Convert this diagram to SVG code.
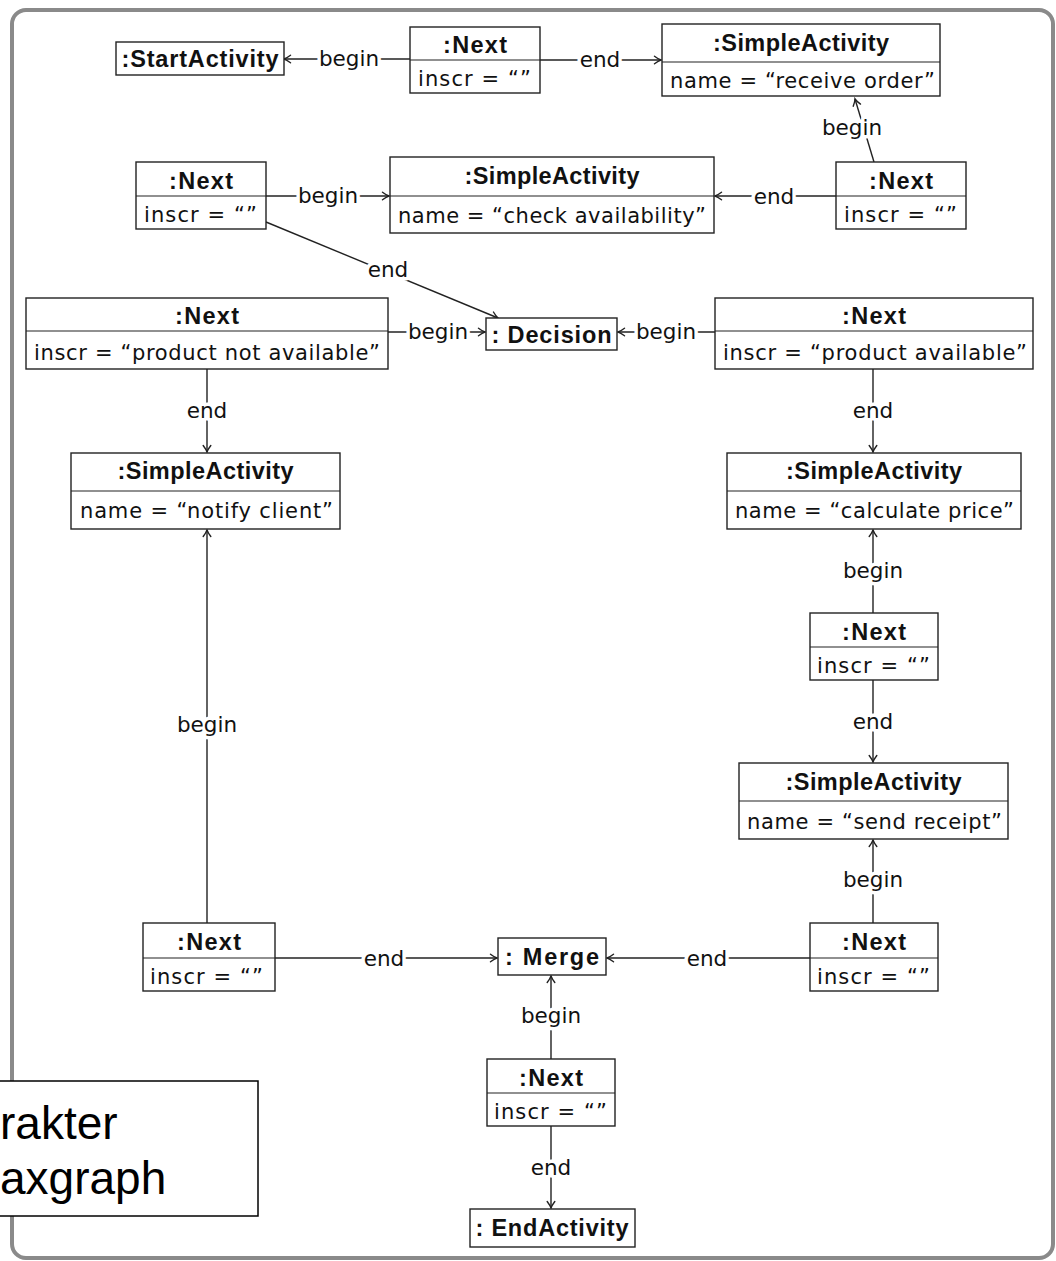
<svg xmlns="http://www.w3.org/2000/svg" width="1056" height="1261" viewBox="0 0 1056 1261">
  <style>
    .box { fill: #fff; stroke: #222; stroke-width: 1.4; }
    .div { stroke: #222; stroke-width: 1.2; }
    .hd { font-family: "Liberation Sans", "DejaVu Sans", sans-serif; font-size: 23.5px; font-weight: bold; fill: #111; text-anchor: middle; }
    .at { font-family: "DejaVu Sans", "Liberation Sans", sans-serif; font-size: 21px; fill: #111; }
    .edge { stroke: #222; stroke-width: 1.4; fill: none; marker-end: url(#arr); }
    .lbl { font-family: "DejaVu Sans", "Liberation Sans", sans-serif; font-size: 21.5px; fill: #111; text-anchor: middle; paint-order: stroke; stroke: #fff; stroke-width: 7px; stroke-linejoin: round; }
    .note { font-family: "Liberation Sans", Arial, sans-serif; font-size: 46px; fill: #000; }
  </style>
  <defs>
    <marker id="arr" viewBox="-8 -5 10 10" refX="0" refY="0" markerWidth="10" markerHeight="10" markerUnits="userSpaceOnUse" orient="auto">
      <path d="M -6.5,-3.8 Q -2.5,-0.8 0,0 Q -2.5,0.8 -6.5,3.8" fill="none" stroke="#222" stroke-width="1.4" stroke-linecap="round"/>
    </marker>
  </defs>

  <rect width="1056" height="1261" fill="#fff"/>
  <!-- frame -->
  <rect x="12" y="10" width="1041" height="1248" rx="14" fill="#fff" stroke="#8a8a8a" stroke-width="4"/>

  <!-- connectors -->
  <g id="connectors">
    <line class="edge" x1="410" y1="59" x2="284" y2="59"/>
    <text class="lbl" x="349" y="66">begin</text>
    <line class="edge" x1="540" y1="60" x2="661" y2="60"/>
    <text class="lbl" x="600" y="67">end</text>

    <line class="edge" x1="874" y1="162" x2="855" y2="99"/>
    <text class="lbl" x="852" y="135">begin</text>

    <line class="edge" x1="836" y1="196" x2="715" y2="196"/>
    <text class="lbl" x="774" y="204">end</text>
    <line class="edge" x1="266" y1="196" x2="389" y2="196"/>
    <text class="lbl" x="328" y="203">begin</text>

    <line class="edge" x1="266" y1="222" x2="498" y2="318"/>
    <text class="lbl" x="388" y="277">end</text>

    <line class="edge" x1="388" y1="332" x2="485" y2="332"/>
    <text class="lbl" x="438" y="339">begin</text>
    <line class="edge" x1="715" y1="332" x2="618" y2="332"/>
    <text class="lbl" x="666" y="339">begin</text>

    <line class="edge" x1="207" y1="369" x2="207" y2="452"/>
    <text class="lbl" x="207" y="418">end</text>
    <line class="edge" x1="873" y1="369" x2="873" y2="452"/>
    <text class="lbl" x="873" y="418">end</text>

    <line class="edge" x1="873" y1="613" x2="873" y2="530"/>
    <text class="lbl" x="873" y="578">begin</text>
    <line class="edge" x1="873" y1="680" x2="873" y2="762"/>
    <text class="lbl" x="873" y="729">end</text>
    <line class="edge" x1="873" y1="923" x2="873" y2="840"/>
    <text class="lbl" x="873" y="887">begin</text>

    <line class="edge" x1="207" y1="923" x2="207" y2="530"/>
    <text class="lbl" x="207" y="732">begin</text>

    <line class="edge" x1="275" y1="958" x2="497" y2="958"/>
    <text class="lbl" x="384" y="966">end</text>
    <line class="edge" x1="810" y1="958" x2="607" y2="958"/>
    <text class="lbl" x="707" y="966">end</text>

    <line class="edge" x1="551" y1="1059" x2="551" y2="976"/>
    <text class="lbl" x="551" y="1023">begin</text>
    <line class="edge" x1="551" y1="1126" x2="551" y2="1208"/>
    <text class="lbl" x="551" y="1175">end</text>
  </g>

  <!-- nodes -->
  <g id="start">
    <rect class="box" x="116" y="42" width="168" height="33"/>
    <text class="hd" x="200" y="67" textLength="157">:StartActivity</text>
  </g>

  <g id="next1">
    <rect class="box" x="410" y="27" width="130" height="66"/>
    <line class="div" x1="410" y1="60" x2="540" y2="60"/>
    <text class="hd" x="475" y="53" textLength="64">:Next</text>
    <text class="at" x="418" y="86" textLength="113">inscr = “”</text>
  </g>

  <g id="receiveOrder">
    <rect class="box" x="662" y="24" width="278" height="72"/>
    <line class="div" x1="662" y1="62" x2="940" y2="62"/>
    <text class="hd" x="801" y="51" textLength="176">:SimpleActivity</text>
    <text class="at" x="670" y="88" textLength="265">name = “receive order”</text>
  </g>

  <g id="next2">
    <rect class="box" x="136" y="162" width="130" height="67"/>
    <line class="div" x1="136" y1="196" x2="266" y2="196"/>
    <text class="hd" x="201" y="189" textLength="64">:Next</text>
    <text class="at" x="144" y="222" textLength="113">inscr = “”</text>
  </g>

  <g id="checkAvailability">
    <rect class="box" x="390" y="157" width="324" height="76"/>
    <line class="div" x1="390" y1="196" x2="714" y2="196"/>
    <text class="hd" x="552" y="184" textLength="175">:SimpleActivity</text>
    <text class="at" x="398" y="223" textLength="308">name = “check availability”</text>
  </g>

  <g id="next3">
    <rect class="box" x="836" y="162" width="130" height="67"/>
    <line class="div" x1="836" y1="196" x2="966" y2="196"/>
    <text class="hd" x="901" y="189" textLength="64">:Next</text>
    <text class="at" x="844" y="222" textLength="113">inscr = “”</text>
  </g>

  <g id="nextNotAvailable">
    <rect class="box" x="26" y="298" width="362" height="71"/>
    <line class="div" x1="26" y1="331" x2="388" y2="331"/>
    <text class="hd" x="207" y="324" textLength="64">:Next</text>
    <text class="at" x="34" y="360" textLength="346">inscr = “product not available”</text>
  </g>

  <g id="decision">
    <rect class="box" x="486" y="318" width="131" height="32"/>
    <text class="hd" x="551.5" y="343" textLength="120">: Decision</text>
  </g>

  <g id="nextAvailable">
    <rect class="box" x="715" y="298" width="318" height="71"/>
    <line class="div" x1="715" y1="331" x2="1033" y2="331"/>
    <text class="hd" x="874" y="324" textLength="64">:Next</text>
    <text class="at" x="723" y="360" textLength="304">inscr = “product available”</text>
  </g>

  <g id="notifyClient">
    <rect class="box" x="71" y="453" width="269" height="76"/>
    <line class="div" x1="71" y1="491" x2="340" y2="491"/>
    <text class="hd" x="205.5" y="479" textLength="176">:SimpleActivity</text>
    <text class="at" x="80" y="518" textLength="253">name = “notify client”</text>
  </g>

  <g id="calculatePrice">
    <rect class="box" x="727" y="453" width="294" height="76"/>
    <line class="div" x1="727" y1="491" x2="1021" y2="491"/>
    <text class="hd" x="874" y="479" textLength="176">:SimpleActivity</text>
    <text class="at" x="735" y="518" textLength="279">name = “calculate price”</text>
  </g>

  <g id="next4">
    <rect class="box" x="810" y="613" width="128" height="67"/>
    <line class="div" x1="810" y1="647" x2="938" y2="647"/>
    <text class="hd" x="874" y="640" textLength="64">:Next</text>
    <text class="at" x="817" y="673" textLength="113">inscr = “”</text>
  </g>

  <g id="sendReceipt">
    <rect class="box" x="739" y="763" width="269" height="76"/>
    <line class="div" x1="739" y1="801" x2="1008" y2="801"/>
    <text class="hd" x="873.5" y="790" textLength="176">:SimpleActivity</text>
    <text class="at" x="747" y="829" textLength="255">name = “send receipt”</text>
  </g>

  <g id="next5">
    <rect class="box" x="143" y="923" width="132" height="68"/>
    <line class="div" x1="143" y1="958" x2="275" y2="958"/>
    <text class="hd" x="209" y="950" textLength="64">:Next</text>
    <text class="at" x="150" y="984" textLength="113">inscr = “”</text>
  </g>

  <g id="merge">
    <rect class="box" x="498" y="938" width="108" height="37"/>
    <text class="hd" x="552" y="965" textLength="94">: Merge</text>
  </g>

  <g id="next6">
    <rect class="box" x="810" y="923" width="128" height="68"/>
    <line class="div" x1="810" y1="958" x2="938" y2="958"/>
    <text class="hd" x="874" y="950" textLength="64">:Next</text>
    <text class="at" x="817" y="984" textLength="113">inscr = “”</text>
  </g>

  <g id="next7">
    <rect class="box" x="487" y="1059" width="128" height="67"/>
    <line class="div" x1="487" y1="1093" x2="615" y2="1093"/>
    <text class="hd" x="551" y="1086" textLength="64">:Next</text>
    <text class="at" x="494" y="1119" textLength="113">inscr = “”</text>
  </g>

  <g id="end">
    <rect class="box" x="470" y="1209" width="165" height="38"/>
    <text class="hd" x="552" y="1236" textLength="153">: EndActivity</text>
  </g>

  <!-- overlaid caption box -->
  <g id="caption">
    <rect x="-4" y="1081" width="262" height="135" fill="#fff" stroke="#000" stroke-width="1.5"/>
    <text class="note" x="0" y="1139">rakter</text>
    <text class="note" x="0" y="1194">axgraph</text>
  </g>
</svg>
